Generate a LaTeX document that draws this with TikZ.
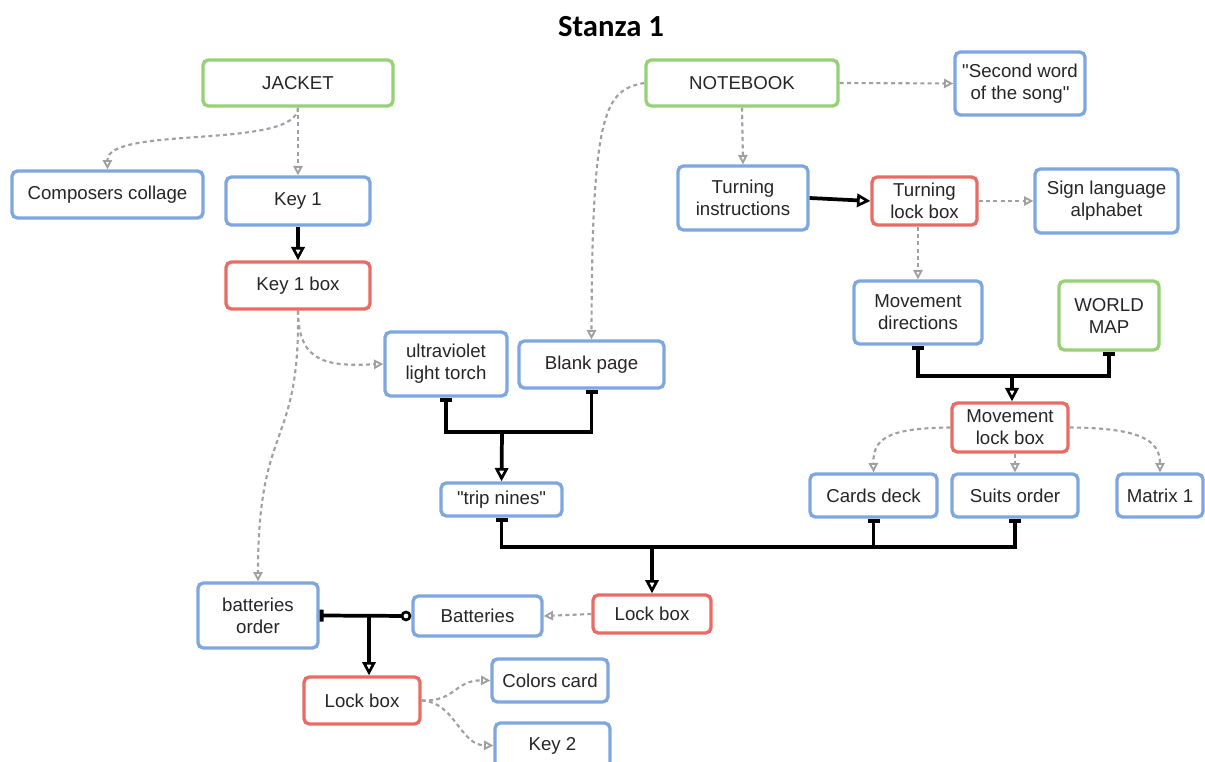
\documentclass[tikz,border=0pt]{standalone}
\usepackage{fontspec}
\setmainfont{Liberation Sans}[Ligatures=TeXOff]
\newfontfamily\titlefont{Carlito}
\usetikzlibrary{arrows.meta}
\definecolor{cblue}{HTML}{7EA6E0}
\definecolor{cred}{HTML}{EA6B66}
\definecolor{cgreen}{HTML}{97D077}
\definecolor{cgray}{HTML}{A0A0A0}
\definecolor{ctext}{HTML}{262626}
\newcommand{\mybox}[7]{\node[#1, minimum width={(#5-#3)*0.75pt}, minimum height={(#6-#4)*0.75pt}] (#2) at ({(#3+#5)/2},{(#4+#6)/2}) {#7};}
\begin{document}
\begin{tikzpicture}[x=0.75pt,y=-0.75pt,
 basebox/.style={draw, line width=2.5pt, rounded corners=4pt, fill=white, inner sep=0pt, align=center, text=ctext, font=\fontsize{14}{16.5}\selectfont},
 bluebox/.style={basebox, draw=cblue},
 redbox/.style={basebox, draw=cred},
 greenbox/.style={basebox, draw=cgreen},
 gline/.style={draw=cgray, line width=1.6pt, dash pattern=on 3pt off 2.5pt, -{Triangle[open, length=7pt, width=7pt, line width=1.4pt]}},
 bus/.style={draw=black, line width=2.8pt},
 busarrow/.style={bus, -{Triangle[open, length=10pt, width=10pt, line width=2pt]}},
 tees/.style={{Bar[width=9pt,line width=3pt]}-{Bar[width=9pt,line width=3pt]}},
 teestart/.style={{Bar[width=9pt,line width=3pt]}-},
 ]
\useasboundingbox (0,0) rectangle (1205,762);
\node[font=\titlefont\bfseries\fontsize{23}{26}\selectfont] (title) at (611,27) {Stanza 1};

\mybox{greenbox}{jacket}{203}{60}{393}{106}{JACKET}
\mybox{greenbox}{nb}{646}{60}{838}{106}{NOTEBOOK}
\mybox{bluebox}{second}{955}{52}{1085}{115}{"Second word\\of the song"}
\mybox{bluebox}{comp}{12}{171}{203}{218}{Composers collage}
\mybox{bluebox}{key1}{226}{177}{370}{225}{Key 1}
\mybox{redbox}{k1box}{226}{262}{370}{309}{Key 1 box}
\mybox{bluebox}{turn}{678}{166}{808}{230}{Turning\\instructions}
\mybox{redbox}{tlb}{872}{177}{977}{225}{Turning\\lock box}
\mybox{bluebox}{sign}{1035}{169}{1178}{233}{Sign language\\alphabet}
\mybox{bluebox}{md}{854}{281}{982}{344}{Movement\\directions}
\mybox{greenbox}{wm}{1059}{281}{1159}{350}{WORLD\\MAP}
\mybox{bluebox}{uv}{385}{332}{507}{396}{ultraviolet\\light torch}
\mybox{bluebox}{blank}{519}{341}{664}{388}{Blank page}
\mybox{bluebox}{trip}{441}{483}{562}{516}{"trip nines"}
\mybox{redbox}{mlb}{952}{403}{1068}{452}{Movement\\lock box}
\mybox{bluebox}{cards}{810}{474}{937}{517}{Cards deck}
\mybox{bluebox}{suits}{952}{474}{1078}{517}{Suits order}
\mybox{bluebox}{matrix}{1117}{474}{1203}{517}{Matrix 1}
\mybox{redbox}{lb1}{593}{595}{711}{633}{Lock box}
\mybox{bluebox}{bat}{413}{596}{542}{636}{Batteries}
\mybox{bluebox}{batord}{198}{583}{318}{648}{batteries\\order}
\mybox{redbox}{lb2}{304}{677}{420}{724}{Lock box}
\mybox{bluebox}{colors}{492}{659}{608}{702}{Colors card}
\mybox{bluebox}{key2}{495}{723}{610}{768}{Key 2}

% left branch
\draw[gline] (jacket.south) .. controls (297,150) and (107,125) .. (comp.north);
\draw[gline] (jacket.south) -- (key1.north);
\draw[busarrow] (key1.south) -- (k1box.north);
\draw[gline] (k1box.south) .. controls (298,365) and (330,366) .. (uv.west);
\draw[gline] (k1box.south) .. controls (300,450) and (258,420) .. (batord.north);

% notebook branch
\draw[gline] (nb.west) .. controls (605,90) and (592,110) .. (blank.north);
\draw[gline] (nb.east) -- (second.west);
\draw[gline] (nb.south) -- (turn.north);
\draw[busarrow] (turn.east) -- (tlb.west);
\draw[gline] (tlb.east) -- (sign.west);
\draw[gline] (tlb.south -| md.north) -- (md.north);

% movement bus
\coordinate (jm) at (1012,376);
\draw[bus, tees] (md.south) |- (jm) -| (wm.south);
\draw[busarrow] (jm) -- (jm |- mlb.north);
\draw[gline] (mlb.west) .. controls (885,428) and (873,440) .. (cards.north);
\draw[gline] (suits.north |- mlb.south) -- (suits.north);
\draw[gline] (mlb.east) .. controls (1140,428) and (1160,440) .. (matrix.north);

% trip nines bus
\coordinate (jt) at (502,432);
\draw[bus, tees] (uv.south) |- (jt) -| (blank.south);
\draw[busarrow] (jt) -- (trip.north);

% lock box bus
\coordinate (jl) at (652,547);
\draw[bus, tees] (trip.south) |- (jl) -| (suits.south);
\draw[bus, teestart] (cards.south) -- (cards.south |- jl);
\draw[busarrow] (jl) -- (lb1.north);
\draw[gline] (lb1.west) -- (bat.east);

% batteries bus
\coordinate (jb) at (369,616);
\draw[bus, {Bar[width=9pt,line width=3pt]}-{Circle[open,length=8pt,width=8pt,line width=2pt]}] (batord.east) -- (bat.west);
\draw[busarrow] (jb) -- (jb |- lb2.north);
\draw[gline] (lb2.east) .. controls (455,702) and (455,680) .. (colors.west);
\draw[gline] (lb2.east) .. controls (455,702) and (460,745) .. (key2.west);
\end{tikzpicture}
\end{document}
